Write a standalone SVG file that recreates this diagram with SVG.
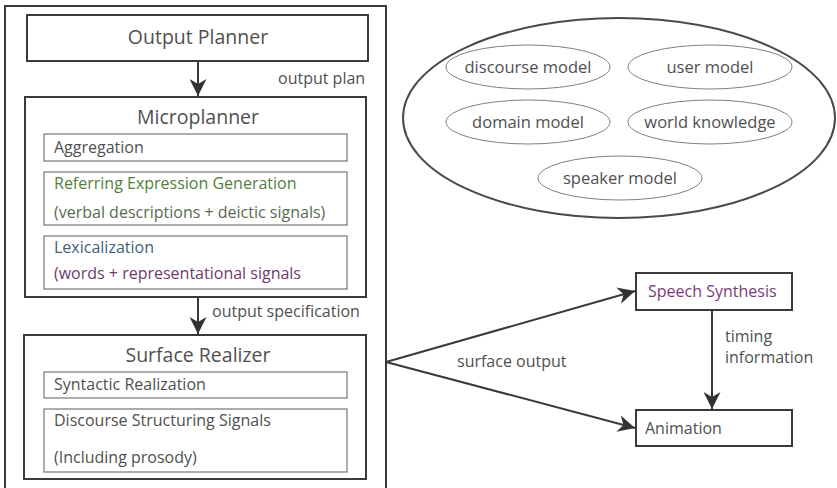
<svg xmlns="http://www.w3.org/2000/svg" width="837" height="488" viewBox="0 0 837 488">
<style>
text{font-family:"Open Sans","Noto Sans","Liberation Sans",sans-serif;fill:#505050}
.box{fill:#fff;stroke:#3a3a3a;stroke-width:2}
.sub{fill:#fff;stroke:#777;stroke-width:1.2}
.ell{fill:none;stroke:#808080;stroke-width:1}
.big{fill:none;stroke:#4a4a4a;stroke-width:2}
.h{font-size:19.5px;text-anchor:middle}
.t{font-size:16px}
.e{font-size:16.5px;text-anchor:middle}
.c{stroke:#3a3a3a;stroke-width:2;fill:none}
</style>
<defs>
<marker id="ah" viewBox="0 0 10 10" refX="10" refY="5" markerWidth="17" markerHeight="17" markerUnits="userSpaceOnUse" orient="auto">
<path d="M0,0 L10,5 L0,10 L3,5 z" fill="#333"/>
</marker>
</defs>
<rect x="0" y="0" width="837" height="488" fill="#fff"/>
<g id="outer"><rect x="5" y="6" width="381" height="495" class="box" stroke-width="1.5"/></g>
<g id="output-planner">
<rect x="27" y="15" width="341" height="46" class="box"/>
<text x="198" y="44" class="h">Output Planner</text>
</g>
<g id="microplanner">
<rect x="25" y="97" width="341" height="200" class="box"/>
<text x="198" y="124" class="h">Microplanner</text>
<g id="aggregation"><rect x="44" y="134" width="303" height="27" class="sub"/><text x="54" y="153" class="t">Aggregation</text></g>
<g id="referring"><rect x="44" y="172" width="303" height="53" class="sub"/>
<text x="54" y="189" class="t" style="fill:#4f7f3a">Referring Expression Generation</text>
<text x="54" y="218" class="t" style="fill:#5a6a50">(verbal descriptions + deictic signals)</text></g>
<g id="lexicalization"><rect x="44" y="236" width="303" height="53" class="sub"/>
<text x="54" y="253" class="t" style="fill:#3f5f7a">Lexicalization</text>
<text x="54" y="279" class="t" style="fill:#703a70">(words + representational signals</text></g>
</g>
<g id="surface-realizer">
<rect x="24" y="335" width="342" height="144" class="box"/>
<text x="198" y="362" class="h">Surface Realizer</text>
<g id="syntactic"><rect x="44" y="372" width="303" height="26" class="sub"/><text x="54" y="390" class="t">Syntactic Realization</text></g>
<g id="discourse-signals"><rect x="44" y="409" width="303" height="63" class="sub"/>
<text x="54" y="426" class="t">Discourse Structuring Signals</text>
<text x="54" y="463" class="t">(Including prosody)</text></g>
</g>
<g id="knowledge">
<ellipse cx="619" cy="118" rx="216" ry="100" class="big"/>
<g id="discourse-model"><ellipse cx="528" cy="67" rx="82" ry="22" class="ell"/><text x="528" y="73" class="e">discourse model</text></g>
<g id="user-model"><ellipse cx="710" cy="67" rx="82" ry="22" class="ell"/><text x="710" y="73" class="e">user model</text></g>
<g id="domain-model"><ellipse cx="528" cy="122" rx="82" ry="22" class="ell"/><text x="528" y="128" class="e">domain model</text></g>
<g id="world-knowledge"><ellipse cx="710" cy="122" rx="82" ry="22" class="ell"/><text x="710" y="128" class="e">world knowledge</text></g>
<g id="speaker-model"><ellipse cx="620" cy="178" rx="82" ry="22" class="ell"/><text x="620" y="184" class="e">speaker model</text></g>
</g>
<g id="speech-synthesis"><rect x="636" y="273" width="156" height="37" class="box"/><text x="648" y="297" class="t" style="fill:#7a3a7a">Speech Synthesis</text></g>
<g id="animation"><rect x="636" y="410" width="156" height="36" class="box"/><text x="645" y="434" class="t">Animation</text></g>
<g id="connectors">
<line x1="198" y1="61" x2="198" y2="96" class="c" marker-end="url(#ah)"/>
<line x1="198" y1="297" x2="198" y2="334" class="c" marker-end="url(#ah)"/>
<line x1="712" y1="310" x2="712" y2="409" class="c" marker-end="url(#ah)"/>
<line x1="386" y1="362" x2="635" y2="291" class="c" marker-end="url(#ah)"/>
<line x1="386" y1="362" x2="635" y2="428" class="c" marker-end="url(#ah)"/>
<text x="278" y="84" class="t">output plan</text>
<text x="212" y="317" class="t">output specification</text>
<text x="457" y="367" class="t">surface output</text>
<text x="725" y="342" class="t">timing</text>
<text x="725" y="363" class="t">information</text>
</g>
</svg>
